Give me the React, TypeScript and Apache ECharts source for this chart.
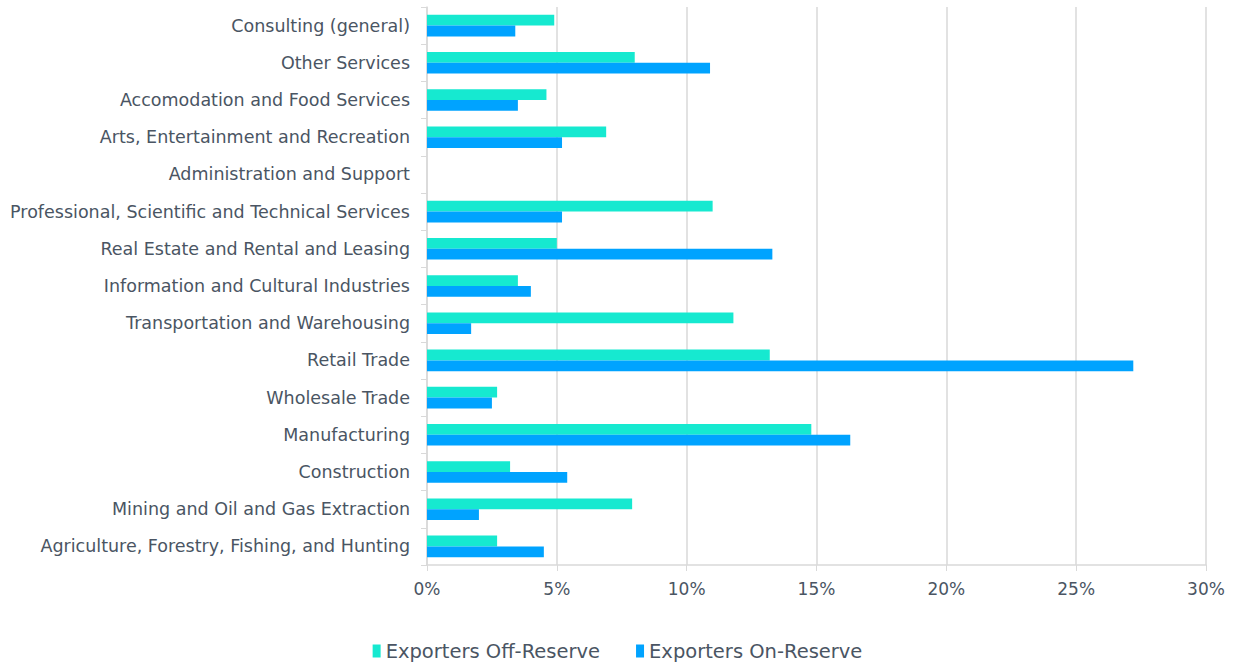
import React, { useEffect, useRef } from "react";
import * as echarts from "echarts";

const categories = [
  "Consulting (general)",
  "Other Services",
  "Accomodation and Food Services",
  "Arts, Entertainment and Recreation",
  "Administration and Support",
  "Professional, Scientific and Technical Services",
  "Real Estate and Rental and Leasing",
  "Information and Cultural Industries",
  "Transportation and Warehousing",
  "Retail Trade",
  "Wholesale Trade",
  "Manufacturing",
  "Construction",
  "Mining and Oil and Gas Extraction",
  "Agriculture, Forestry, Fishing, and Hunting",
];

const offReserve = [4.9, 8.0, 4.6, 6.9, 0, 11.0, 5.0, 3.5, 11.8, 13.2, 2.7, 14.8, 3.2, 7.9, 2.7];
const onReserve = [3.4, 10.9, 3.5, 5.2, 0, 5.2, 13.3, 4.0, 1.7, 27.2, 2.5, 16.3, 5.4, 2.0, 4.5];

const seriesNames = ["Exporters Off-Reserve", "Exporters On-Reserve"];
const colors = ["#16E9D0", "#00A3FF"];

const FONT = "'DejaVu Sans', sans-serif";
const TEXT = "#4a5563";

export default function App() {
  const ref = useRef<HTMLDivElement>(null);
  useEffect(() => {
    const chart = echarts.init(ref.current!, null, { renderer: "svg" });
    chart.setOption({
      animation: false,
      color: colors,
      grid: { left: 427, right: 29, top: 7, bottom: 99, containLabel: false },
      legend: {
        bottom: -2,
        left: "center",
        itemWidth: 8,
        itemHeight: 13,
        itemGap: 36,
        icon: "rect",
        textStyle: { fontFamily: FONT, fontSize: 19.5, color: TEXT },
        data: seriesNames,
      },
      xAxis: {
        type: "value",
        min: 0,
        max: 30,
        interval: 5,
        axisLabel: {
          formatter: (v: number) => v + "%",
          fontFamily: FONT,
          fontSize: 17,
          color: TEXT,
          margin: 15,
        },
        axisLine: { show: true, lineStyle: { color: "#d9d9d9", width: 1.5 } },
        axisTick: { show: true, length: 6, lineStyle: { color: "#d9d9d9" } },
        splitLine: { show: true, lineStyle: { color: "#d9d9d9", width: 1.5 } },
      },
      yAxis: {
        type: "category",
        inverse: true,
        data: categories,
        axisLabel: { fontFamily: FONT, fontSize: 17.5, color: TEXT, margin: 17 },
        axisLine: { show: true, lineStyle: { color: "#d9d9d9", width: 1.5 } },
        axisTick: { show: true, length: 6, lineStyle: { color: "#d9d9d9" } },
      },
      series: [
        {
          name: seriesNames[0],
          type: "bar",
          data: offReserve,
          barGap: "0%",
          barCategoryGap: "42%",
        },
        {
          name: seriesNames[1],
          type: "bar",
          data: onReserve,
          barGap: "0%",
          barCategoryGap: "42%",
        },
      ],
    });
    return () => chart.dispose();
  }, []);
  return <div ref={ref} style={{ width: 1235, height: 664, position: "absolute", left: 0, top: 0 }} />;
}
